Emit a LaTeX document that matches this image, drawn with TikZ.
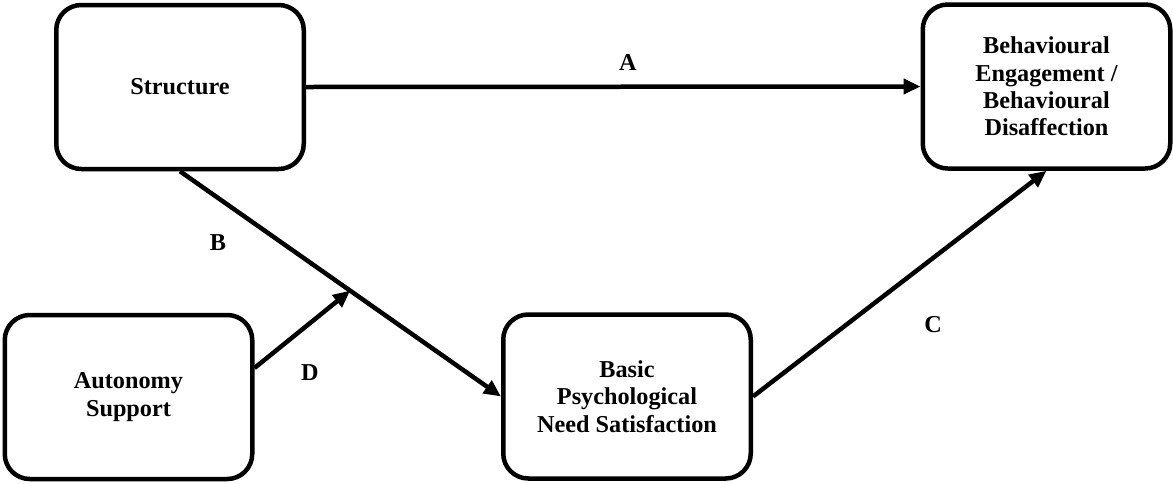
\documentclass[tikz,border=0pt]{standalone}
\usepackage{fontspec}
\setmainfont{Liberation Serif}
\usetikzlibrary{arrows.meta}

\begin{document}
\begin{tikzpicture}[
                box/.style={draw=black, line width=0.09cm, rounded corners=0.5cm,
                    minimum width=4.95cm, minimum height=3.28cm,
                    align=center, font=\fontsize{13.8}{15.6}\selectfont\bfseries},
                path/.style={line width=0.09cm,
                    -{Triangle[length=0.34cm, width=0.3cm]}},
                lbl/.style={font=\fontsize{13.8}{15.6}\selectfont\bfseries}
            ]
            \useasboundingbox (0,0) rectangle (23.46,-9.66);

            % boxes
            \node[box] (structure) at (3.6,-1.74) {Structure};
            \node[box] (behav) at (20.93,-1.73)
                {Behavioural\\Engagement /\\Behavioural\\Disaffection};
            \node[box] (autonomy) at (2.57,-7.94) {Autonomy\\Support};
            \node[box] (basic) at (12.54,-7.93)
                {Basic\\Psychological\\Need Satisfaction};

            % paths
            \draw[path] (structure.east) -- (behav.west);
            \draw[path] (structure.south) -- coordinate[pos=0.53] (mod) (basic.west);
            \draw[path] (basic.east) -- (behav.south);
            \draw[path] ([yshift=0.58cm]autonomy.east) -- (mod);

            % labels
            \node[lbl] (lblA) at (12.56,-1.24) {A};
            \node[lbl] (lblB) at (4.36,-4.86) {B};
            \node[lbl] (lblC) at (18.66,-6.5) {C};
            \node[lbl] (lblD) at (6.2,-7.46) {D};

            \end{tikzpicture}
\end{document}
